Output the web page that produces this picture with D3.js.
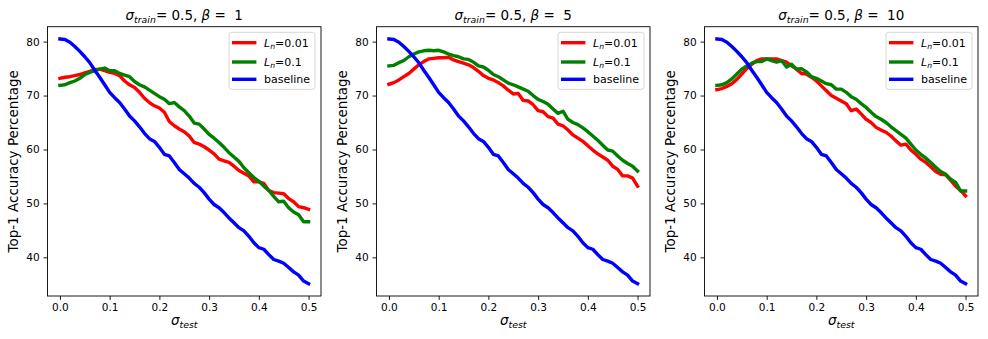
<!DOCTYPE html>
<html><head><meta charset="utf-8">
<script src="https://cdn.jsdelivr.net/npm/d3@7"></script>
<style>
body{margin:0;background:#fff}
svg{display:block}
text{font-family:"DejaVu Sans",sans-serif;fill:#000}
</style>
</head><body><svg id="c" width="988" height="339"></svg>
<script>
const sigmaTest = [0.00,0.01,0.02,0.03,0.04,0.05,0.06,0.07,0.08,0.09,0.10,0.11,0.12,0.13,0.14,0.15,0.16,0.17,0.18,0.19,0.20,0.21,0.22,0.23,0.24,0.25,0.26,0.27,0.28,0.29,0.30,0.31,0.32,0.33,0.34,0.35,0.36,0.37,0.38,0.39,0.40,0.41,0.42,0.43,0.44,0.45,0.46,0.47,0.48,0.49,0.50];

const baseline = [80.5,80.4,79.9,79.1,78.2,77.2,76.1,74.7,73.4,72.0,70.6,69.6,68.7,67.5,66.2,65.3,64.2,63.0,62.0,61.5,60.4,59.1,58.8,57.6,56.3,55.5,54.7,53.7,53.0,52.0,50.8,49.8,49.2,48.3,47.3,46.4,45.5,44.9,43.9,42.7,41.8,41.5,40.5,39.6,39.3,38.9,38.1,37.3,36.7,35.6,35.1];

const beta1_Ln001 = [73.2,73.4,73.5,73.7,73.9,74.2,74.5,74.8,74.9,74.6,74.3,74.1,73.7,72.7,72.0,71.5,70.6,69.5,68.7,68.1,67.7,66.9,65.2,64.4,63.8,63.3,62.5,61.3,61.0,60.5,59.9,59.2,58.2,57.9,57.6,56.9,56.1,55.6,55.1,54.0,54.0,53.7,52.4,52.0,51.9,51.8,50.9,50.3,49.4,49.2,48.9];
const beta1_Ln01 = [71.9,72.0,72.4,72.7,73.2,73.9,74.3,74.6,74.9,75.1,74.6,74.6,74.1,73.8,73.5,72.6,72.0,71.6,71.0,70.4,69.8,69.3,68.5,68.7,67.9,67.2,66.2,64.9,64.7,63.8,62.8,62.1,61.3,60.4,59.4,58.6,57.8,56.6,55.7,54.8,54.1,53.2,52.4,51.3,50.3,50.4,49.2,48.4,47.9,46.6,46.6];

const beta5_Ln001 = [72.1,72.4,72.9,73.5,74.1,74.9,75.7,76.3,76.8,76.9,77.0,77.0,77.1,76.6,76.3,76.0,75.7,75.2,74.5,73.7,73.2,72.9,72.4,71.8,71.0,70.3,70.4,69.1,69.0,68.3,67.2,67.0,66.1,65.8,64.7,64.4,63.6,62.7,62.1,61.5,60.7,59.9,59.2,58.6,58.0,56.9,56.3,55.1,55.1,54.7,53.2];
const beta5_Ln01 = [75.5,75.6,76.1,76.5,77.2,77.7,78.1,78.3,78.4,78.3,78.4,78.1,77.7,77.4,77.2,76.8,76.7,76.2,75.5,75.3,74.7,73.9,73.5,72.9,72.3,72.0,71.6,71.2,70.8,70.0,69.3,68.9,68.4,67.5,66.7,67.1,65.6,65.0,64.6,64.0,63.3,62.5,61.7,60.8,59.9,59.7,58.8,58.0,57.4,56.9,56.0];

const beta10_Ln001 = [71.1,71.3,71.7,72.2,73.0,74.0,75.0,75.8,76.5,76.8,76.8,76.8,76.8,76.5,76.2,75.5,74.9,74.1,74.0,73.4,72.7,71.8,70.9,70.0,69.5,69.0,68.5,67.2,67.5,66.6,65.6,65.0,64.1,63.6,63.2,62.5,61.6,60.8,61.0,59.9,59.1,58.2,57.6,56.8,55.9,55.4,55.3,54.3,53.2,52.4,51.4];
const beta10_Ln01 = [71.9,72.0,72.4,73.1,74.0,74.9,75.5,76.0,76.3,76.3,76.8,76.5,76.2,76.5,75.3,75.8,74.9,75.0,74.4,73.5,73.2,72.7,72.2,72.0,71.2,71.2,70.6,69.8,69.3,68.5,67.8,66.9,66.1,65.6,65.0,64.2,63.5,62.8,62.1,61.0,59.9,59.1,58.4,57.6,56.7,55.9,55.4,54.5,53.9,52.3,52.3];

const betaValues = ["1", "5", "10"];
const sigmaTrain = "0.5";
const xTickValues = [0.0, 0.1, 0.2, 0.3, 0.4, 0.5];
const yTickValues = [40, 50, 60, 70, 80];
const legendLnValues = ["0.01", "0.1"];
const legendBaseline = "baseline";

const panelSeries = [
  [beta1_Ln001, beta1_Ln01, baseline],
  [beta5_Ln001, beta5_Ln01, baseline],
  [beta10_Ln001, beta10_Ln01, baseline]
];
const colors = ["#ff0000", "#008000", "#0000ff"];

const svg = d3.select("#c");
const lefts = [47.5, 376.5, 704.5];
const W = 273.5, T0 = 26.7, H = 269.3;
const fs = 10.5;

panelSeries.forEach((series, p) => {
  const L = lefts[p];
  const g = svg.append("g").attr("transform", `translate(${L},${T0})`);
  const all = series.flat();
  const [mn, mx] = d3.extent(all);
  const pad = (mx - mn) * 0.05;
  const y = d3.scaleLinear().domain([mn - pad, mx + pad]).range([H, 0]);
  const xd = d3.extent(sigmaTest);
  const xp = (xd[1] - xd[0]) * 0.05;
  const x = d3.scaleLinear().domain([xd[0] - xp, xd[1] + xp]).range([0, W]);

  const line = d3.line().x((d, i) => x(sigmaTest[i])).y(d => y(d));
  series.forEach((s, si) => {
    g.append("path").datum(s).attr("d", line)
      .attr("fill", "none").attr("stroke", colors[si])
      .attr("stroke-width", 3.4).attr("stroke-linejoin", "round").attr("stroke-linecap", "square");
  });

  const xa = g.append("g").attr("transform", `translate(0,${H})`)
    .call(d3.axisBottom(x).tickValues(xTickValues).tickFormat(d3.format(".1f")).tickSizeOuter(0).tickSize(3.9).tickPadding(3.9));
  const ya = g.append("g")
    .call(d3.axisLeft(y).tickValues(yTickValues).tickSizeOuter(0).tickSize(3.9).tickPadding(3.9));
  [xa, ya].forEach(a => {
    a.select(".domain").remove();
    a.selectAll("line").attr("stroke", "#000").attr("stroke-width", 0.9);
    a.selectAll("text").attr("font-size", fs).attr("font-family", "DejaVu Sans").attr("fill", "#000");
  });

  g.append("rect").attr("x", 0).attr("y", 0).attr("width", W).attr("height", H)
    .attr("fill", "none").attr("stroke", "#000").attr("stroke-width", 0.9);

  // title
  const t = g.append("text").attr("x", W / 2).attr("y", -6.7).attr("text-anchor", "middle")
    .attr("font-size", 13.5).attr("xml:space", "preserve").style("white-space", "pre");
  t.append("tspan").attr("font-style", "italic").text("σ");
  t.append("tspan").attr("font-style", "italic").attr("font-size", 9.4).attr("dy", 2.5).text("train");
  t.append("tspan").attr("dy", -2.5).text("= " + sigmaTrain + ", ");
  t.append("tspan").attr("font-style", "italic").text("β");
  t.append("tspan").text(" =\u00a0\u00a0" + betaValues[p]);

  // x label
  const xl = g.append("text").attr("x", W / 2).attr("y", H + 29.5).attr("text-anchor", "middle").attr("font-size", 13.5);
  xl.append("tspan").attr("font-style", "italic").text("σ");
  xl.append("tspan").attr("font-style", "italic").attr("font-size", 9.4).attr("dy", 2.5).text("test");

  // y label
  g.append("text").attr("transform", `translate(-30,${H / 2}) rotate(-90)`)
    .attr("text-anchor", "middle").attr("font-size", 13.5).text("Top-1 Accuracy Percentage");

  // legend
  const bw = 86, bh = 57;
  const bx = W - 6 - bw, by = 5.6;
  const lg = g.append("g").attr("transform", `translate(${bx},${by})`);
  lg.append("rect").attr("x", 0).attr("y", 0).attr("width", bw).attr("height", bh)
    .attr("rx", 2.5).attr("fill", "#fff").attr("fill-opacity", 0.8)
    .attr("stroke", "#d6d6d6").attr("stroke-width", 1);
  const rowY = [10.4, 29.7, 47.0];
  const labels = [legendLnValues[0], legendLnValues[1], legendBaseline];
  labels.forEach((lab, i) => {
    lg.append("line").attr("x1", 4.7).attr("x2", 25.7).attr("y1", rowY[i]).attr("y2", rowY[i])
      .attr("stroke", colors[i]).attr("stroke-width", 3.4).attr("stroke-linecap", "square");
    const tx = lg.append("text").attr("x", 35).attr("y", rowY[i]).attr("dy", "0.36em").attr("font-size", 11);
    if (i < 2) {
      tx.append("tspan").attr("font-style", "italic").text("L");
      tx.append("tspan").attr("font-style", "italic").attr("font-size", 7.7).attr("dy", 2.2).text("n");
      tx.append("tspan").attr("dy", -2.2).text("=" + lab);
    } else {
      tx.text(lab);
    }
  });
});
</script>
</body></html>
